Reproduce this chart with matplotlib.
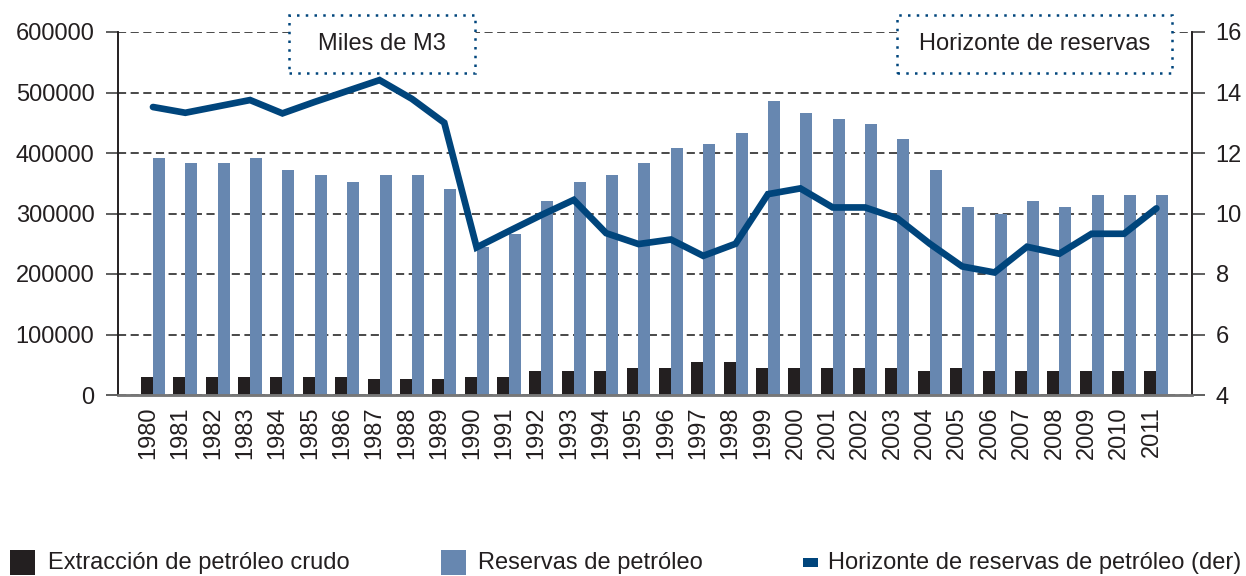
import matplotlib
matplotlib.use("Agg")
import matplotlib.pyplot as plt
from matplotlib.patches import Rectangle
import numpy as np

years = [str(y) for y in range(1980, 2012)]
extraccion = [30000, 30000, 30000, 30000, 30000, 30000, 30000, 26000, 26000, 26000,
              30000, 30000, 40000, 40000, 40000, 45000, 45000, 55000, 55000, 45000,
              45000, 45000, 45000, 45000, 40000, 45000, 40000, 40000, 40000, 40000,
              40000, 40000]
reservas = [391000, 383000, 383000, 391000, 372000, 363000, 352000, 363000, 363000, 340000,
            245000, 266000, 320000, 352000, 363000, 383000, 408000, 415000, 433000, 486000,
            466000, 456000, 448000, 423000, 372000, 310000, 300000, 320000, 310000, 330000,
            330000, 330000]
horizonte = [13.52, 13.33, 13.54, 13.75, 13.31, 13.69, 14.05, 14.41, 13.79, 13.0,
             8.88, 9.42, 9.95, 10.45, 9.35, 8.99, 9.14, 8.6, 9.0, 10.64,
             10.83, 10.2, 10.2, 9.84, 9.0, 8.25, 8.05, 8.9, 8.67, 9.33,
             9.33, 10.17]
left_ticks = [0, 100000, 200000, 300000, 400000, 500000, 600000]
right_ticks = [4, 6, 8, 10, 12, 14, 16]

C_BLACK = "#231f20"
C_BAR = "#6787b0"
C_LINE = "#00457c"
C_TEXT = "#231f20"

plt.rcParams['font.family'] = ['Liberation Sans', 'DejaVu Sans']
FS = 17

fig = plt.figure(figsize=(12.46, 5.76), dpi=100)
W, H = 1246, 576
ax = fig.add_axes([118 / W, 1 - 395 / H, (1192 - 118) / W, (395 - 32) / H])
ax2 = ax.twinx()

x = np.arange(len(years))
bw = 0.37
ax.bar(x - bw / 2, extraccion, width=bw, color=C_BLACK, zorder=2)
ax.bar(x + bw / 2, reservas, width=bw, color=C_BAR, zorder=2)
ax2.plot(x, horizonte, color=C_LINE, lw=4.8, solid_capstyle='round', solid_joinstyle='miter', zorder=3)

ax.set_xlim(-1.08, len(years) - 1 + 1.1)
ax.set_ylim(0, 600000)
ax2.set_ylim(4, 16)
ax.set_yticks(left_ticks)
ax.set_yticklabels([str(v) for v in left_ticks], fontsize=FS, color=C_TEXT)
ax2.set_yticks(right_ticks)
ax2.set_yticklabels([str(v) for v in right_ticks], fontsize=FS, color=C_TEXT)
ax.set_xticks(x - 0.15)
ax.set_xticklabels(years, rotation=90, fontsize=FS, color=C_TEXT)
ax.tick_params(axis='x', length=0, pad=8)
ax.tick_params(axis='y', length=9, color="#444444", width=1.2, pad=8)
ax2.tick_params(axis='y', length=9, color="#444444", width=1.2, pad=8)

ax.yaxis.grid(True, linestyle=(0, (4.5, 2.5)), color="#3a3a3a", lw=1.3, zorder=0)
ax.set_axisbelow(True)
for a in (ax, ax2):
    a.spines['top'].set_visible(False)
    a.spines['left'].set_color(C_TEXT)
    a.spines['right'].set_color(C_TEXT)
    a.spines['bottom'].set_color("#777777")
    a.spines['bottom'].set_linewidth(1.8)
    a.spines['left'].set_linewidth(1.2)
    a.spines['right'].set_linewidth(1.2)

# Unit boxes
def unit_box(x0, x1, y0, y1, text):
    r = Rectangle((x0 / W, 1 - y1 / H), (x1 - x0) / W, (y1 - y0) / H, transform=fig.transFigure,
                  facecolor="white", edgecolor=C_LINE, linestyle=(0, (1, 2.5)), lw=1.8, zorder=5)
    fig.add_artist(r)
    fig.text((x0 + x1) / 2 / W, 1 - (y0 + y1) / 2 / H, text, ha='center', va='center',
             fontsize=FS, color=C_TEXT, zorder=6)

unit_box(289, 475, 15, 73, "Miles de M3")
unit_box(897, 1172, 15, 73, "Horizonte de reservas")

# Legend
ly = 563
fig.add_artist(Rectangle((10 / W, 1 - 575 / H), 25 / W, 25 / H, transform=fig.transFigure,
                         facecolor=C_BLACK, edgecolor='none'))
fig.text(48 / W, 1 - ly / H, "Extracción de petróleo crudo", ha='left', va='center', fontsize=FS, color=C_TEXT)
fig.add_artist(Rectangle((441 / W, 1 - 575 / H), 25 / W, 25 / H, transform=fig.transFigure,
                         facecolor=C_BAR, edgecolor='none'))
fig.text(478 / W, 1 - ly / H, "Reservas de petróleo", ha='left', va='center', fontsize=FS, color=C_TEXT)
fig.add_artist(Rectangle((803 / W, 1 - 567 / H), 15 / W, 9 / H, transform=fig.transFigure,
                         facecolor=C_LINE, edgecolor='none'))
fig.text(828 / W, 1 - ly / H, "Horizonte de reservas de petróleo (der)", ha='left', va='center', fontsize=FS, color=C_TEXT)

fig.savefig("out.png", dpi=100)
